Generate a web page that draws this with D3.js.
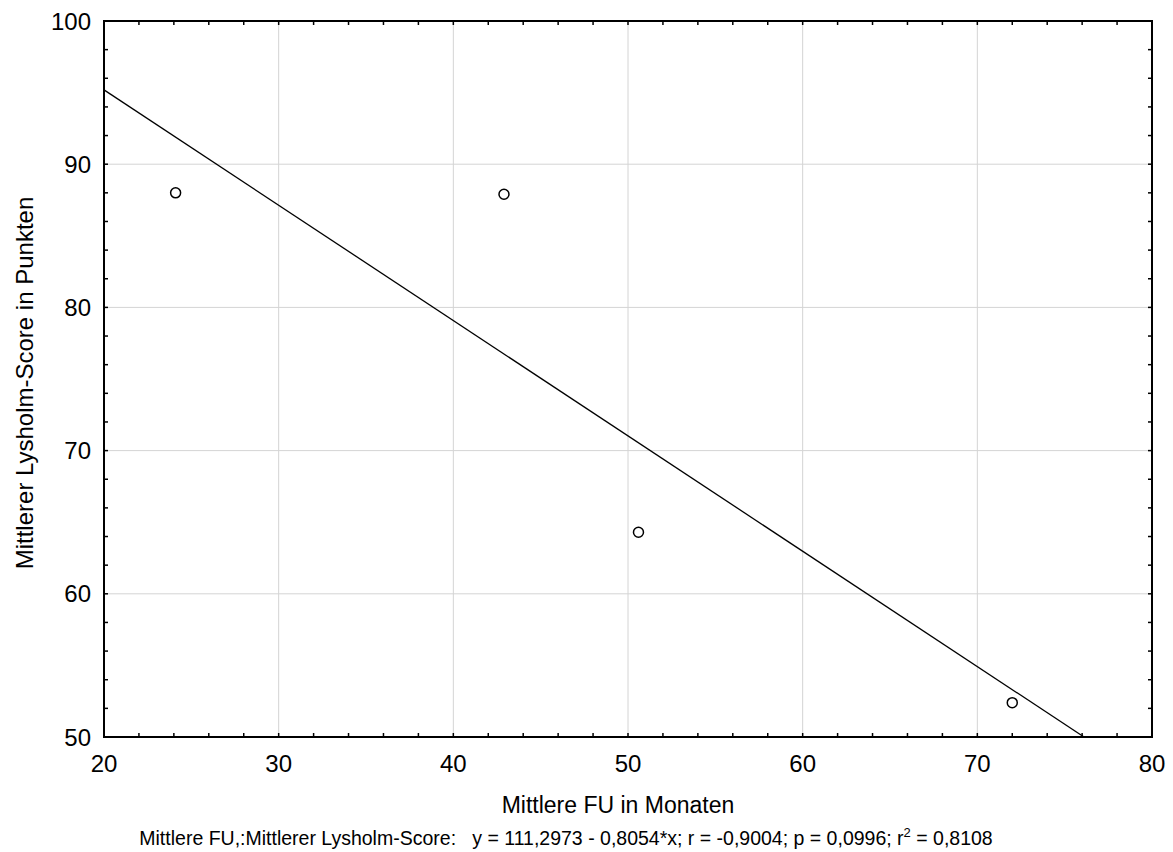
<!DOCTYPE html>
<html><head><meta charset="utf-8">
<script src="https://cdn.jsdelivr.net/npm/d3@7"></script>
<style>body{margin:0;background:#fff;} svg{display:block;font-family:"Liberation Sans",Arial,sans-serif;}</style>
</head><body>
<svg id="c" width="1173" height="852"></svg>
<script>
const xValues = [24.1, 42.9, 50.6, 72.0];
const yValues = [88.0, 87.9, 64.3, 52.4];
const xTicks = [20, 30, 40, 50, 60, 70, 80];
const yTicks = [50, 60, 70, 80, 90, 100];
const intercept = 111.2973, slope = -0.8054;
const xTitle = "Mittlere FU in Monaten";
const yTitle = "Mittlerer Lysholm-Score in Punkten";
const footer = "Mittlere FU,:Mittlerer Lysholm-Score:   y = 111,2973 - 0,8054*x; r = -0,9004; p = 0,0996; r";
const footerEnd = " = 0,8108";

const svg = d3.select("#c");
const L = 104, R = 1152, T = 21, B = 737;
const x = d3.scaleLinear().domain([20, 80]).range([L, R]);
const y = d3.scaleLinear().domain([50, 100]).range([B, T]);

// grid
svg.append("g").selectAll("line").data(xTicks.slice(1, -1)).join("line")
  .attr("x1", d => x(d)).attr("x2", d => x(d)).attr("y1", T).attr("y2", B)
  .attr("stroke", "#d4d4d4").attr("stroke-width", 1);
svg.append("g").selectAll("line").data(yTicks.slice(1, -1)).join("line")
  .attr("y1", d => y(d)).attr("y2", d => y(d)).attr("x1", L).attr("x2", R)
  .attr("stroke", "#d4d4d4").attr("stroke-width", 1);

// minor ticks (inward, all sides)
const xMinor = d3.range(20, 80.01, 2);
const yMinor = d3.range(50, 100.01, 2);
const tk = svg.append("g").attr("stroke", "#000").attr("stroke-width", 1.5);
xMinor.forEach(v => {
  tk.append("line").attr("x1", x(v)).attr("x2", x(v)).attr("y1", B).attr("y2", B - 4);
  tk.append("line").attr("x1", x(v)).attr("x2", x(v)).attr("y1", T).attr("y2", T + 4);
});
yMinor.forEach(v => {
  tk.append("line").attr("y1", y(v)).attr("y2", y(v)).attr("x1", L).attr("x2", L + 4);
  tk.append("line").attr("y1", y(v)).attr("y2", y(v)).attr("x1", R).attr("x2", R - 4);
});

// regression line, clipped to plot
const xEnd = Math.min(80, (50 - intercept) / slope);
svg.append("line")
  .attr("x1", x(20)).attr("y1", y(intercept + slope * 20))
  .attr("x2", x(xEnd)).attr("y2", y(intercept + slope * xEnd))
  .attr("stroke", "#000").attr("stroke-width", 1.3);

// frame
svg.append("rect").attr("x", L).attr("y", T).attr("width", R - L).attr("height", B - T)
  .attr("fill", "none").attr("stroke", "#000").attr("stroke-width", 2);

// points
svg.append("g").selectAll("circle").data(xValues.map((v, i) => [v, yValues[i]])).join("circle")
  .attr("cx", d => x(d[0])).attr("cy", d => y(d[1])).attr("r", 5)
  .attr("fill", "#fff").attr("stroke", "#000").attr("stroke-width", 1.5);

// tick labels
svg.append("g").selectAll("text").data(xTicks).join("text")
  .attr("x", d => x(d)).attr("y", 772).attr("text-anchor", "middle")
  .attr("font-size", 24).text(d => d);
svg.append("g").selectAll("text").data(yTicks).join("text")
  .attr("x", 91).attr("y", d => y(d) + 8.5).attr("text-anchor", "end")
  .attr("font-size", 24).text(d => d);

// titles
svg.append("text").attr("x", 618).attr("y", 813).attr("text-anchor", "middle")
  .attr("font-size", 23).text(xTitle);
svg.append("text").attr("transform", `translate(33,383) rotate(-90)`)
  .attr("text-anchor", "middle").attr("font-size", 24).text(yTitle);

const ft = svg.append("text").attr("x", 566).attr("y", 845).attr("text-anchor", "middle")
  .attr("font-size", 19.5).style("white-space", "pre");
ft.append("tspan").text(footer);
ft.append("tspan").attr("font-size", 13).attr("dy", -8).text("2");
ft.append("tspan").attr("dy", 8).text(footerEnd);
</script>
</body></html>
